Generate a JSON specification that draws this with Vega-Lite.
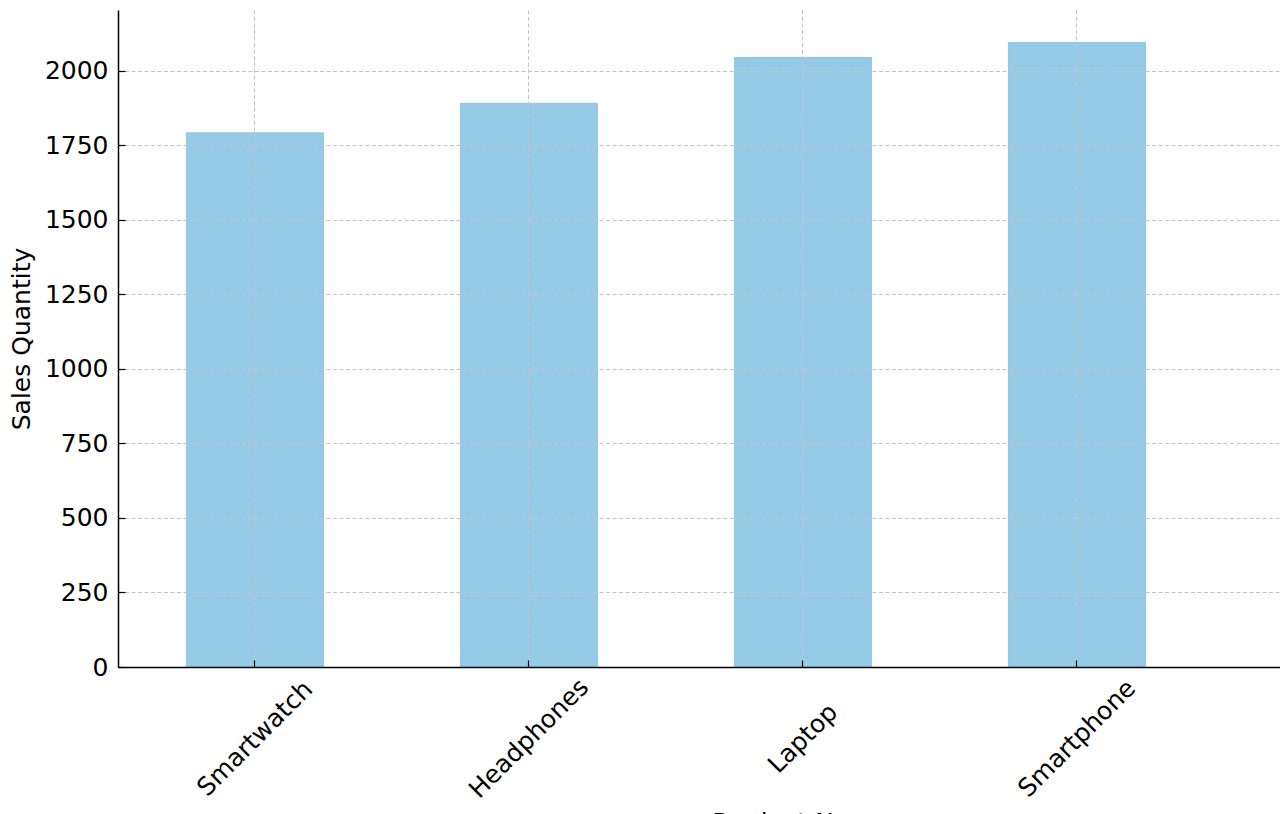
{
  "$schema": "https://vega.github.io/schema/vega-lite/v6.json",
  "autosize": "none",
  "width": 1162,
  "height": 657,
  "padding": {"left": 118, "top": 10, "right": 0, "bottom": 147},
  "background": "white",
  "config": {
    "view": {"stroke": null},
    "font": "DejaVu Sans",
    "axis": {"labelFont": "DejaVu Sans", "titleFont": "DejaVu Sans"}
  },
  "data": {
    "values": [
      {"Product Name": "Smartwatch", "Sales Quantity": 1792},
      {"Product Name": "Headphones", "Sales Quantity": 1891},
      {"Product Name": "Laptop", "Sales Quantity": 2045},
      {"Product Name": "Smartphone", "Sales Quantity": 2095}
    ]
  },
  "mark": {"type": "bar", "color": "#96cbe7", "stroke": "#8fc6e4", "strokeWidth": 1},
  "encoding": {
    "x": {
      "field": "Product Name",
      "type": "nominal",
      "sort": null,
      "scale": {"paddingInner": 0.5, "paddingOuter": 0.3704, "align": 0.337},
      "axis": {
        "zindex": 1,
        "grid": true,
        "gridColor": "#c4c4c4",
        "gridDash": [4, 2.5],
        "gridWidth": 1,
        "domainColor": "#000000",
        "domainWidth": 1.5,
        "tickColor": "#000000",
        "tickSize": -7,
        "tickWidth": 1.2,
        "labelAngle": -45,
        "labelAlign": "center",
        "labelBaseline": "middle",
        "labelPadding": 78,
        "labelFontSize": 25,
        "labelColor": "#000000",
        "labelOverlap": false,
        "labelBound": false,
        "labelFlush": false,
        "title": "Product Name",
        "titleFontSize": 25,
        "titleFontWeight": "normal",
        "titleColor": "#000000",
        "titleX": 682,
        "titleAlign": "center",
        "titleBaseline": "top",
        "titleY": 143
      }
    },
    "y": {
      "field": "Sales Quantity",
      "type": "quantitative",
      "scale": {"domain": [0, 2204], "nice": false, "zero": true},
      "axis": {
        "zindex": 1,
        "values": [0, 250, 500, 750, 1000, 1250, 1500, 1750, 2000],
        "format": "d",
        "grid": true,
        "gridColor": "#c4c4c4",
        "gridDash": [4, 2.5],
        "gridWidth": 1,
        "domainColor": "#000000",
        "domainWidth": 1.5,
        "tickColor": "#000000",
        "tickSize": -7,
        "tickWidth": 1.2,
        "labelPadding": 17,
        "labelFontSize": 25,
        "labelColor": "#000000",
        "labelOverlap": false,
        "labelFlush": false,
        "title": "Sales Quantity",
        "titleFontSize": 25,
        "titleFontWeight": "normal",
        "titleColor": "#000000",
        "titlePadding": 10
      }
    }
  }
}
